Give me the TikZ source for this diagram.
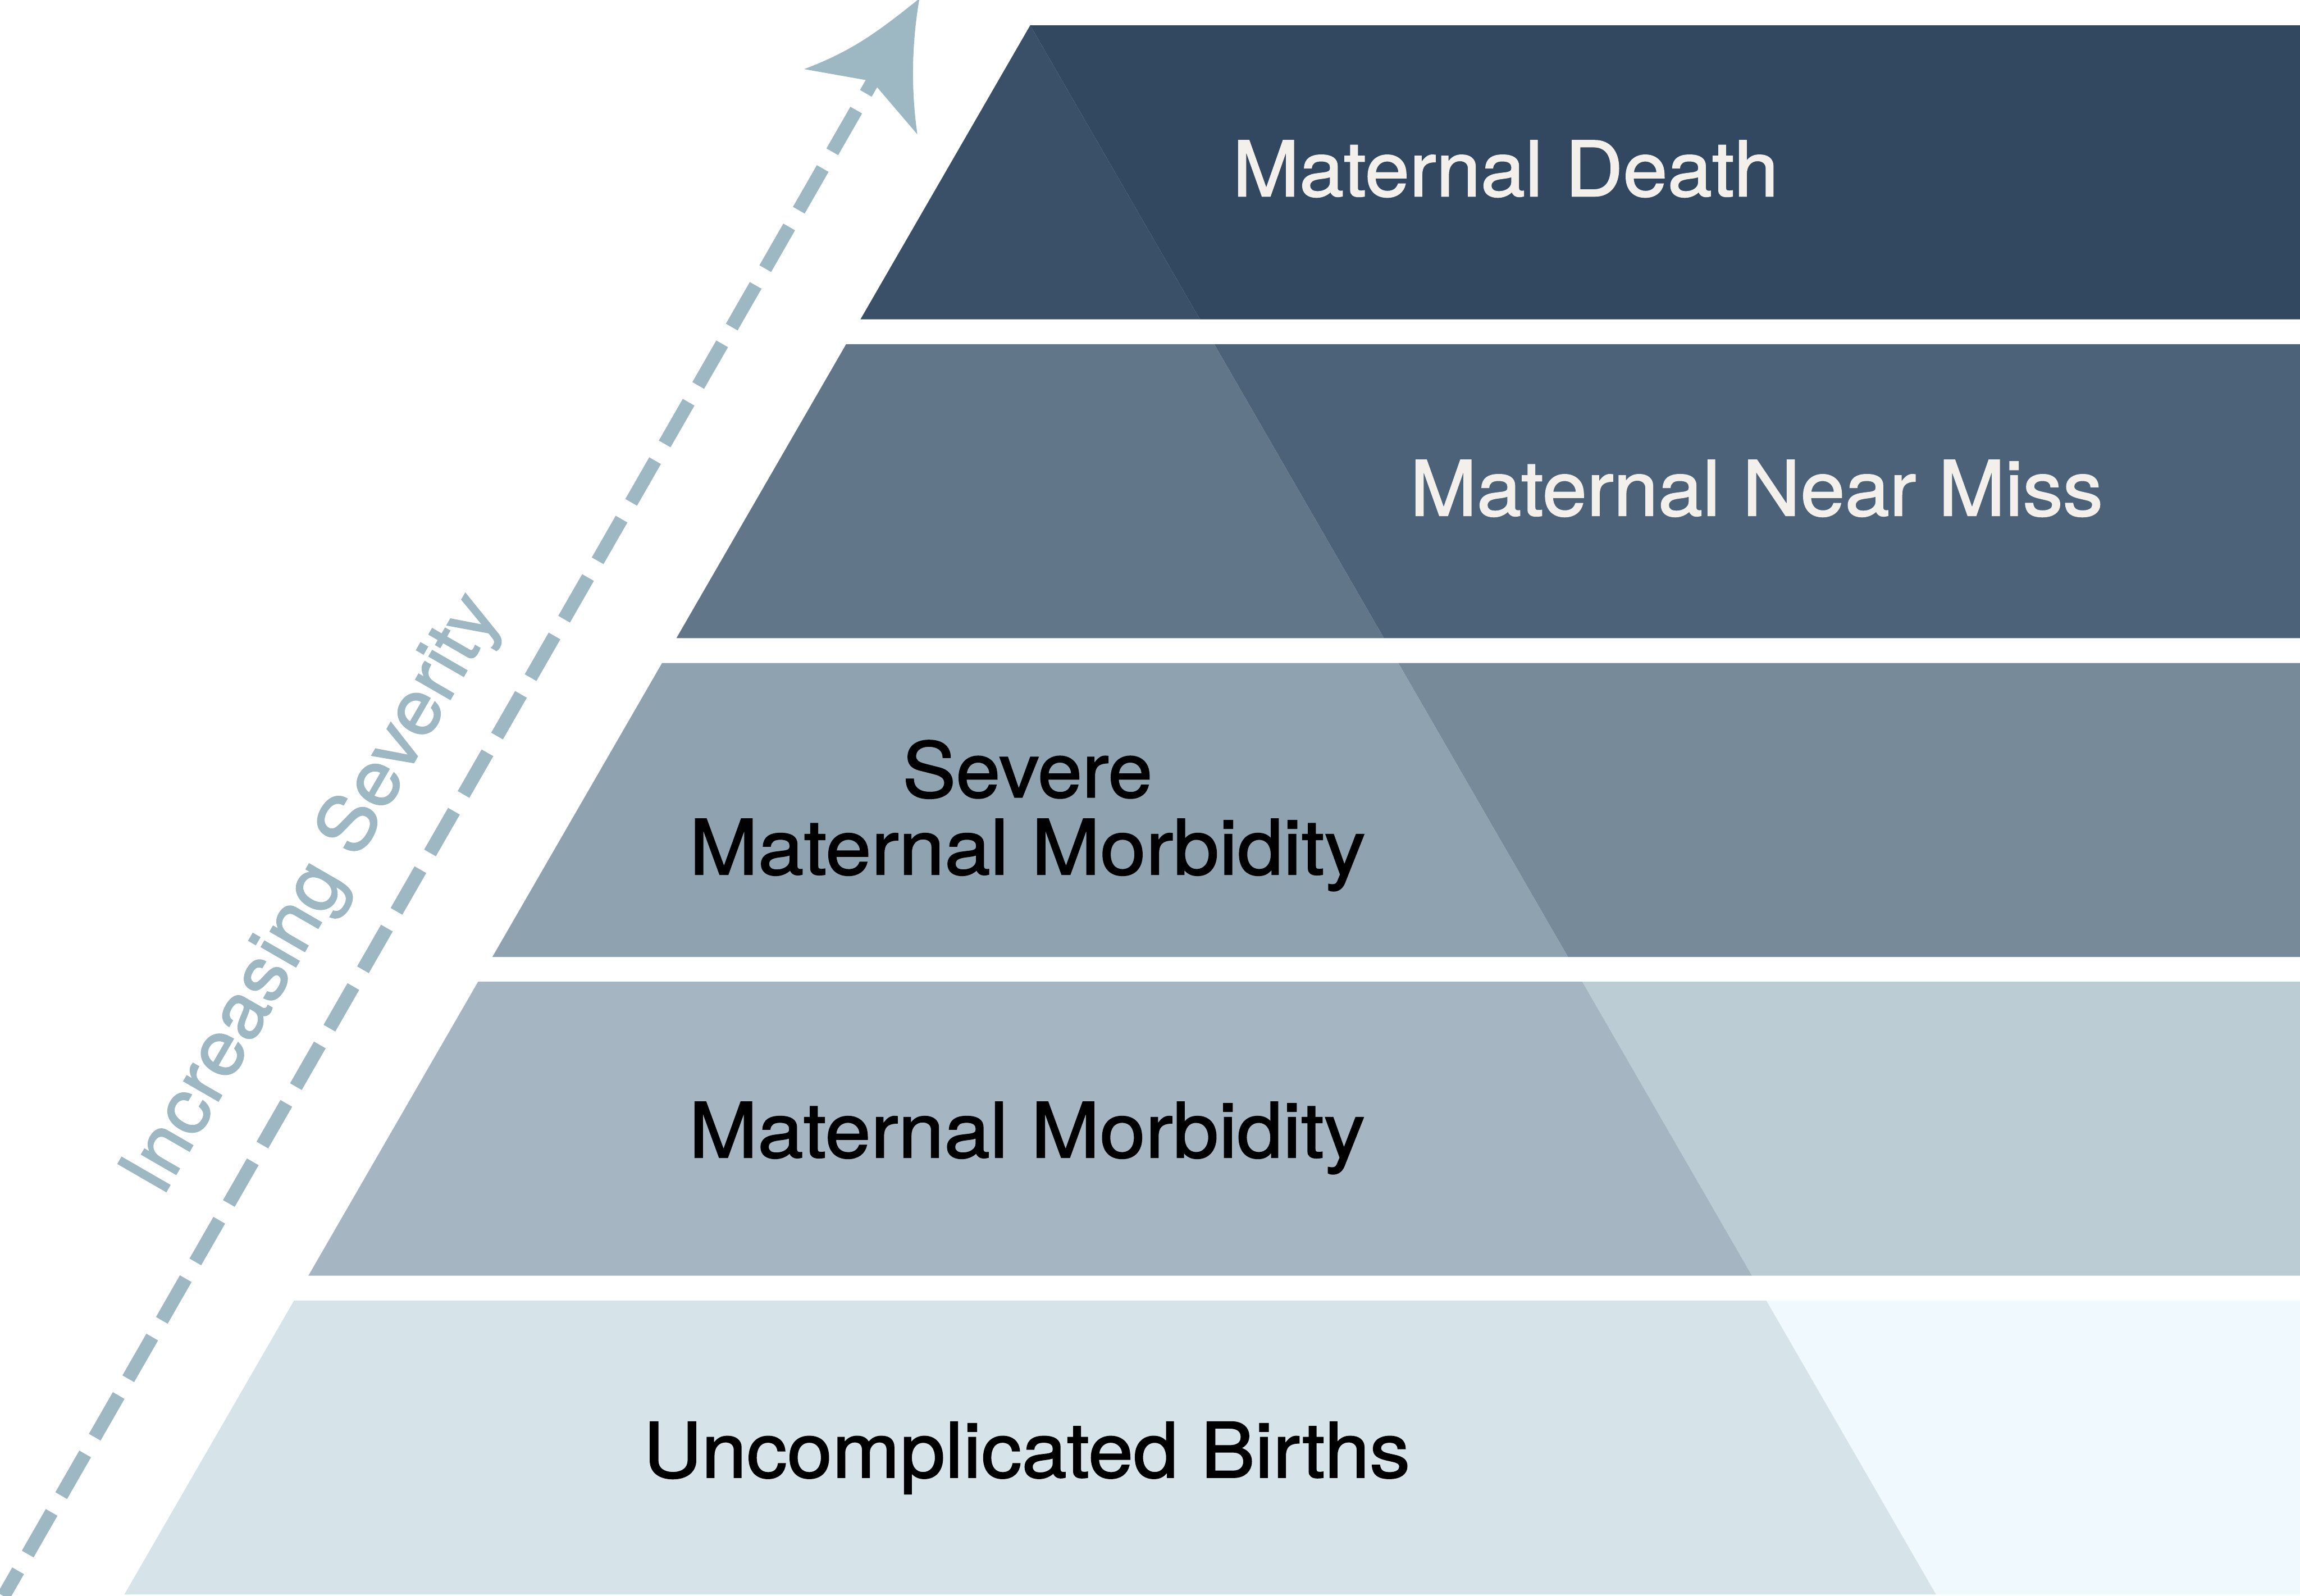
\documentclass[tikz,border=0pt]{standalone}
\usepackage{fontspec}
\setmainfont[FakeStretch=1.05,FakeBold=1.5]{TeX Gyre Heros}
\newfontfamily\widefont[FakeStretch=1.08,FakeBold=1.5]{TeX Gyre Heros}
\newfontfamily\midfont[FakeStretch=1.063,FakeBold=1.5]{TeX Gyre Heros}
\definecolor{bandAl}{HTML}{3A5068}
\definecolor{bandAr}{HTML}{324760}
\definecolor{bandBl}{HTML}{617689}
\definecolor{bandBr}{HTML}{4C6279}
\definecolor{bandCl}{HTML}{8EA2B0}
\definecolor{bandCr}{HTML}{768A9A}
\definecolor{bandDl}{HTML}{A5B6C2}
\definecolor{bandDr}{HTML}{BCCCD5}
\definecolor{bandEl}{HTML}{D6E3E9}
\definecolor{bandEr}{HTML}{F0F9FD}
\definecolor{arrowcol}{HTML}{9DB8C3}
\definecolor{lighttext}{HTML}{F3F0EB}
\begin{document}
\begin{tikzpicture}[x=1pt,y=-1pt,
  lbl/.style={font=\fontsize{52}{52.6}\selectfont, inner sep=0pt},
  arrowline/.style={draw=arrowcol, line width=9.2pt, line cap=butt,
    dash pattern=on 32.76pt off 13.16pt, dash phase=12.87pt}]
\useasboundingbox (0,0) rectangle (1568,1087.7);
\clip (0,0) rectangle (1568,1087.7);
% bands
\foreach \i/\cl/\cr in {0/bandAl/bandAr,1/bandBl/bandBr,2/bandCl/bandCr,3/bandDl/bandDr,4/bandEl/bandEr}{
  \pgfmathsetmacro\yt{17.3+217.3*\i}
  \pgfmathsetmacro\yb{\yt+200.4}
  \pgfmathsetmacro\xlt{702.3-0.57735*(\yt-17.3)}
  \pgfmathsetmacro\xlb{702.3-0.57735*(\yb-17.3)}
  \pgfmathsetmacro\xrt{702.3+0.57735*(\yt-17.3)}
  \pgfmathsetmacro\xrb{702.3+0.57735*(\yb-17.3)}
  \fill[\cr] (\xrt,\yt) -- (1570,\yt) -- (1570,\yb) -- (\xrb,\yb) -- cycle;
  \fill[\cl] (\xlt,\yt) -- (\xrt,\yt) -- (\xrb,\yb) -- (\xlb,\yb) -- cycle;
}
% arrow
\coordinate (arrowStart) at (2.44,1088);
\coordinate (arrowEnd) at (599.7,47.2);
\coordinate (tip) at (626.8,-1);
\coordinate (barbL) at (548.2,47.1);
\coordinate (notch) at (594.4,55.3);
\coordinate (barbR) at (625.4,91.6);
\draw[arrowline] (arrowStart) -- (arrowEnd);
\fill[arrowcol] (tip) .. controls (598.9,21.4) and (581.0,34.8) .. (barbL)
  -- (notch) -- (barbR) .. controls (621,61) and (621.5,30) .. (tip) -- cycle;
% labels
\node[lbl, text=lighttext, anchor=base] (death) at (1026.4,133.7) {Maternal Death};
\node[lbl, text=lighttext, anchor=base] (nearmiss) at (1197.5,351.5) {Maternal Near Miss};
\node[lbl, align=center, anchor=center] (smm) at (700.5,556) {Severe\\\widefont Maternal Morbidity};
\node[lbl, anchor=base] (mm) at (700.2,789) {\widefont Maternal Morbidity};
\node[lbl, anchor=base] (ub) at (700,1007.1) {\midfont Uncomplicated Births};
\node[lbl, text=arrowcol, rotate=60, anchor=base] (sev) at (226,617) {Increasing Severity};
\end{tikzpicture}
\end{document}
